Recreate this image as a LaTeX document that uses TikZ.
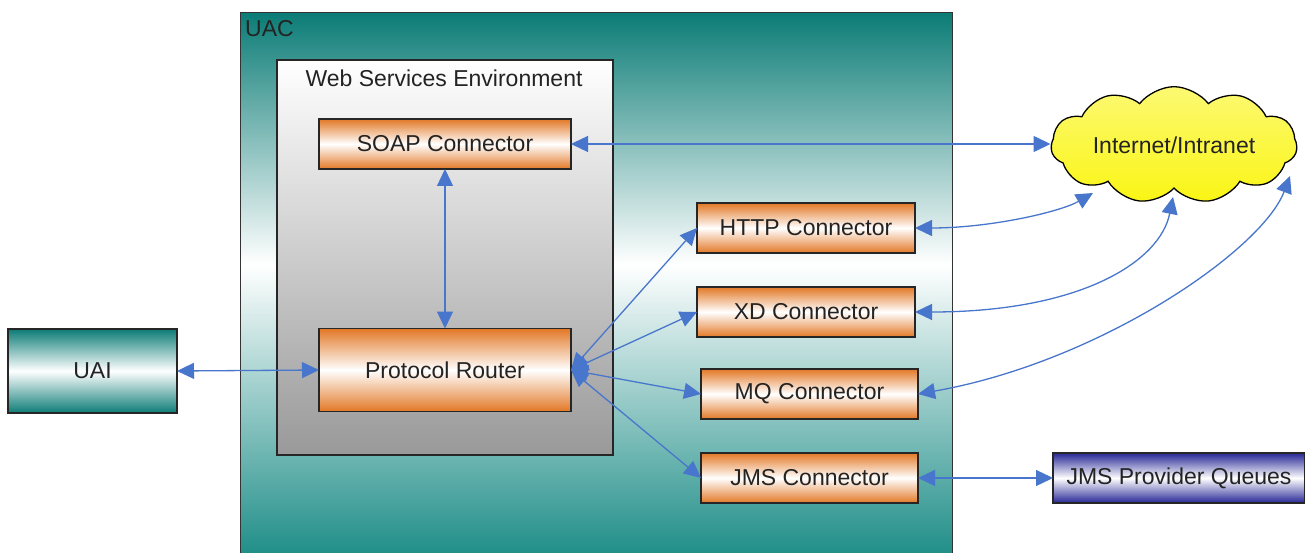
\documentclass[tikz,border=0pt]{standalone}
\usepackage{fontspec}
\setmainfont{Liberation Sans}
\usetikzlibrary{arrows.meta,shapes.symbols}
\definecolor{arr}{RGB}{72,118,204}
\definecolor{tealA}{RGB}{12,124,118}
\definecolor{tealB}{RGB}{28,140,134}
\definecolor{orng}{RGB}{226,120,38}
\definecolor{navy}{RGB}{38,38,150}
\definecolor{txt}{RGB}{35,35,35}
\definecolor{cloudY}{RGB}{250,245,20}
\pgfdeclareverticalshading{uacshade}{100bp}{color(0bp)=(tealB); color(25bp)=(tealB); color(52bp)=(white); color(75bp)=(tealA); color(100bp)=(tealA)}
\tikzset{
  lbl/.style={font=\fontsize{23}{27}\selectfont, text=txt},
  box/.style={lbl, draw=black!85, line width=1.3pt, inner sep=0pt, outer sep=0pt},
  obox/.style={box, top color=orng, bottom color=orng, middle color=white},
  tbox/.style={box, top color=tealA, bottom color=tealA, middle color=white},
  nbox/.style={box, top color=navy, bottom color=navy, middle color=white},
  conn/.style={draw=arr, line width=1.3pt, {Triangle[length=17pt,width=16pt]}-{Triangle[length=17pt,width=16pt]}}
}
\begin{document}
\begin{tikzpicture}[x=1pt,y=-1pt]
\useasboundingbox (0,0) rectangle (1305,553);
% UAC container
\node[draw=black!80, line width=1pt, shade, shading=uacshade, inner sep=0pt, outer sep=0pt,
      minimum width=712pt, minimum height=547pt, anchor=north west] (uac) at (240,13) {};
\node[lbl, anchor=north west, inner sep=0pt] (uaclbl) at (245,20) {UAC};
% Web services environment
\node[draw=black!85, line width=1.3pt, inner sep=0pt, outer sep=0pt, top color=white, bottom color=black!40,
      minimum width=336pt, minimum height=395pt, anchor=north west] (wse) at (277,60) {};
\node[lbl] (wselbl) at (444,78) {Web Services Environment};
% boxes
\node[obox, minimum width=252pt, minimum height=50pt] (soap) at (445,144) {SOAP Connector};
\node[obox, minimum width=252pt, minimum height=83pt] (router) at (445,370) {Protocol Router};
\node[obox, minimum width=218pt, minimum height=50pt] (http) at (806,228) {HTTP Connector};
\node[obox, minimum width=218pt, minimum height=50pt] (xd) at (806,312) {XD Connector};
\node[obox, minimum width=217pt, minimum height=50pt] (mq) at (809.5,394) {MQ Connector};
\node[obox, minimum width=217pt, minimum height=50pt] (jms) at (809.5,478) {JMS Connector};
\node[tbox, minimum width=169pt, minimum height=84pt] (uai) at (92.5,371) {UAI};
\node[nbox, minimum width=252pt, minimum height=50pt] (jmsq) at (1179,478) {JMS Provider Queues};
\node[lbl, cloud, cloud puffs=11, cloud puff arc=105, aspect=2.6, draw=black, line width=1.3pt,
      top color=cloudY!60, middle color=white!92!cloudY, bottom color=cloudY,
      minimum width=246pt, minimum height=90pt, inner sep=0pt] (cloud) at (1174,145) {Internet/Intranet};
\coordinate (cA) at (1093,193);
\coordinate (cB) at (1173,197);
\coordinate (cC) at (1290,176);
% connectors
\draw[conn] (uai.east) -- (router.west);
\draw[conn] (soap.south) -- (router.north);
\draw[conn] (soap.east) -- (soap.east -| cloud.west);
\draw[conn] (router.east) -- (http.west);
\draw[conn] (router.east) -- (xd.west);
\draw[conn] (router.east) -- (mq.west);
\draw[conn] (router.east) -- (jms.west);
\draw[conn] (jms.east) -- (jmsq.west);
\draw[conn] (http.east) .. controls (990,228) and (1060,212) .. (cA);
\draw[conn] (xd.east) .. controls (1080,312) and (1160,262) .. (cB);
\draw[conn] (mq.east) .. controls (1100,362) and (1262,250) .. (cC);
\end{tikzpicture}
\end{document}
